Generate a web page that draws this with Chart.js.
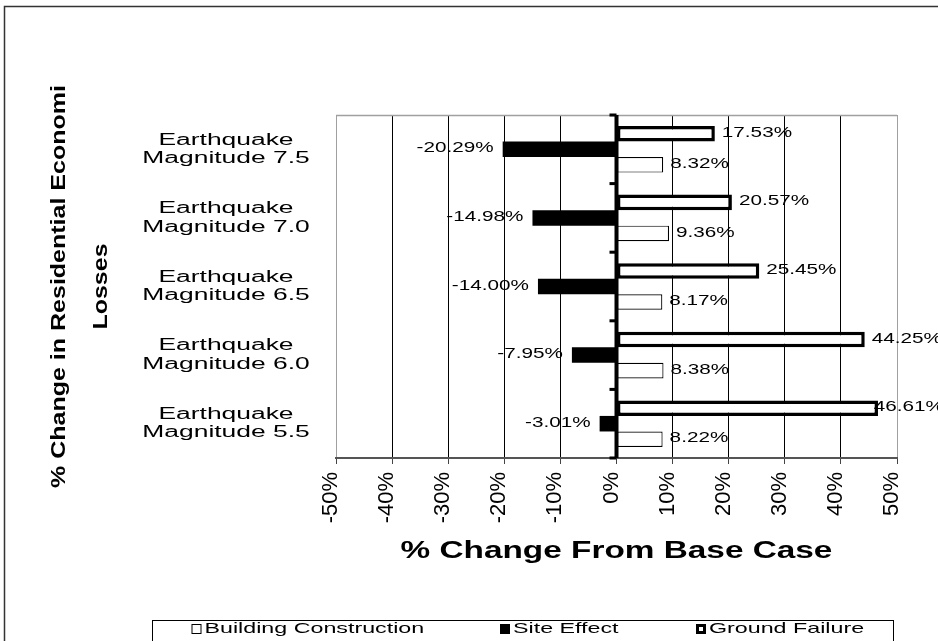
<!DOCTYPE html>
<html>
<head>
<meta charset="utf-8">
<title>% Change in Residential Economic Losses</title>
<script src="https://cdn.jsdelivr.net/npm/chart.js@4.4.1/dist/chart.umd.min.js"></script>
<style>
  html, body { margin: 0; padding: 0; background: #fff; }
  canvas { display: block; }
</style>
</head>
<body>
<canvas id="chart" width="938" height="641"></canvas>
<script>
// Scenario categories (two-line labels), top to bottom
const categories = [
  ['Earthquake', 'Magnitude 7.5'],
  ['Earthquake', 'Magnitude 7.0'],
  ['Earthquake', 'Magnitude 6.5'],
  ['Earthquake', 'Magnitude 6.0'],
  ['Earthquake', 'Magnitude 5.5']
];

// % change from base case for each factor
const groundFailure        = [17.53, 20.57, 25.45, 44.25, 46.61];
const siteEffect           = [-20.29, -14.98, -14.00, -7.95, -3.01];
const buildingConstruction = [8.32, 9.36, 8.17, 8.38, 8.22];

// Value axis tick positions (percent)
const xTickValues = [-50, -40, -30, -20, -10, 0, 10, 20, 30, 40, 50];

const xTitle = '% Change From Base Case';
const yTitle = ['% Change in Residential Economi', 'Losses'];

const FAMILY = '"Liberation Sans", Arial, Helvetica, sans-serif';

// Draw text widened along its baseline
function stretchText(ctx, text, x, y, sx, align, font) {
  ctx.save();
  ctx.font = font;
  ctx.textBaseline = 'middle';
  ctx.textAlign = align;
  ctx.translate(x, y);
  ctx.scale(sx, 1);
  ctx.fillText(text, 0, 0);
  ctx.restore();
}
function stretchWidth(ctx, text, sx, font) {
  ctx.save();
  ctx.font = font;
  const w = ctx.measureText(text).width * sx;
  ctx.restore();
  return w;
}

const decor = {
  id: 'decor',
  beforeDraw(chart) {
    const ctx = chart.ctx;
    ctx.save();
    ctx.fillStyle = '#fff';
    ctx.fillRect(0, 0, chart.width, chart.height);
    // outer chart frame
    ctx.strokeStyle = '#333';
    ctx.lineWidth = 1.5;
    ctx.strokeRect(4.5, 6.5, 1000, 1000);
    ctx.restore();
  },
  beforeDatasetsDraw(chart) {
    const { ctx, chartArea: a } = chart;
    ctx.save();
    ctx.strokeStyle = '#a0a0a0';
    ctx.lineWidth = 1.5;
    ctx.beginPath();
    ctx.moveTo(a.left, a.top + 0.5);
    ctx.lineTo(a.right, a.top + 0.5);
    ctx.stroke();
    ctx.restore();
  },
  afterDatasetsDraw(chart) {
    const { ctx, chartArea: a } = chart;
    const xs = chart.scales.x, ys = chart.scales.y;
    ctx.save();
    ctx.fillStyle = '#000';

    // category axis drawn at zero, with ticks between categories
    const x0 = xs.getPixelForValue(0);
    ctx.fillRect(x0 - 2, a.top, 4, a.bottom - a.top);
    const step = ys.getPixelForValue(1) - ys.getPixelForValue(0);
    const first = ys.getPixelForValue(0) - step / 2;
    for (let i = 0; i <= categories.length; i++) {
      const y = first + i * step;
      ctx.fillRect(x0 - 7, y - 1.5, 7, 3);
    }

    // value labels at bar ends
    const lblFont = '15px ' + FAMILY;
    const lblSx = 1.38;
    const rightLimit = chart.width + 6;
    chart.data.datasets.forEach((ds, di) => {
      const meta = chart.getDatasetMeta(di);
      meta.data.forEach((el, i) => {
        const v = ds.data[i];
        const text = v.toFixed(2) + '%';
        const w = stretchWidth(ctx, text, lblSx, lblFont);
        if (v >= 0) {
          let x = el.x + 7;
          if (x + w > rightLimit) x = rightLimit - w;
          stretchText(ctx, text, x, el.y - 1, lblSx, 'left', lblFont);
        } else {
          stretchText(ctx, text, el.x - 9, el.y - 1, lblSx, 'right', lblFont);
        }
      });
    });

    // category labels
    const catFont = '16px ' + FAMILY;
    categories.forEach((lines, i) => {
      const yc = ys.getPixelForValue(i);
      stretchText(ctx, lines[0], 226, yc - 9.2, 1.65, 'center', catFont);
      stretchText(ctx, lines[1], 226, yc + 9.2, 1.65, 'center', catFont);
    });

    // value axis title
    stretchText(ctx, xTitle, (xs.left + xs.right) / 2, 552, 1.45, 'center', 'bold 23px ' + FAMILY);

    // category axis title (rotated, two lines)
    const ty = (a.top + a.bottom) / 2;
    const tFont = 'bold 20px ' + FAMILY;
    [59, 101].forEach((cx, k) => {
      ctx.save();
      ctx.translate(cx, ty);
      ctx.rotate(-Math.PI / 2);
      stretchText(ctx, yTitle[k], 0, 0, 1.25, 'center', tFont);
      ctx.restore();
    });

    // legend
    const boxL = 152.5, boxT = 620.5, boxR = 893.5;
    ctx.strokeStyle = '#000';
    ctx.lineWidth = 1;
    ctx.strokeRect(boxL, boxT, boxR - boxL, 40);
    const legFont = '15px ' + FAMILY;
    const legSx = 1.55;
    const ly = 629;
    const itemX = [191.5, 500, 696];
    const order = chart.data.datasets.map((d, i) => i).reverse();
    order.forEach((di, k) => {
      const ds = chart.data.datasets[di];
      const lx = itemX[k];
      // marker
      ctx.fillStyle = '#000';
      ctx.fillRect(lx, ly - 5, 10, 10);
      if (ds.backgroundColor === '#fff') {
        const inset = ds.borderWidth >= 3 ? 3 : 1;
        ctx.fillStyle = '#fff';
        ctx.fillRect(lx + inset, ly - 5 + inset, 10 - 2 * inset, 10 - 2 * inset);
      }
      ctx.fillStyle = '#000';
      stretchText(ctx, ds.label, lx + 13, ly, legSx, 'left', legFont);
    });
    ctx.restore();
  }
};

new Chart(document.getElementById('chart'), {
  type: 'bar',
  data: {
    labels: categories.map(c => c.join(' ')),
    datasets: [
      { label: 'Ground Failure', data: groundFailure,
        backgroundColor: '#fff', borderColor: '#000', borderWidth: 3.5, borderSkipped: false },
      { label: 'Site Effect', data: siteEffect,
        backgroundColor: '#000', borderColor: '#000', borderWidth: 0 },
      { label: 'Building Construction', data: buildingConstruction,
        backgroundColor: '#fff', borderColor: '#000', borderWidth: 1.2, borderSkipped: false }
    ]
  },
  options: {
    indexAxis: 'y',
    responsive: false,
    animation: false,
    devicePixelRatio: 1,
    datasets: { bar: { categoryPercentage: 0.68, barPercentage: 1 } },
    layout: { padding: { left: 336, right: 41, top: 115, bottom: 0 } },
    plugins: { legend: { display: false }, tooltip: { enabled: false } },
    scales: {
      x: {
        type: 'linear',
        min: -50,
        max: 50,
        afterBuildTicks: s => { s.ticks = xTickValues.map(v => ({ value: v })); },
        afterFit: s => { s.height = 183; },
        ticks: {
          callback: v => v + '%',
          font: { family: FAMILY, size: 22 },
          color: '#000',
          minRotation: 90,
          maxRotation: 90,
          autoSkip: false,
          padding: 8,
          labelOffset: -5
        },
        grid: {
          color: c => {
            const v = c.tick ? c.tick.value : null;
            if (v === 0) return 'rgba(0,0,0,0)';
            if (v === -50 || v === 50) return '#a0a0a0';
            return '#000';
          },
          lineWidth: 1,
          tickLength: 6,
          tickColor: '#444'
        },
        border: { display: true, color: '#555', width: 2 }
      },
      y: { display: false }
    }
  },
  plugins: [decor]
});
</script>
</body>
</html>
